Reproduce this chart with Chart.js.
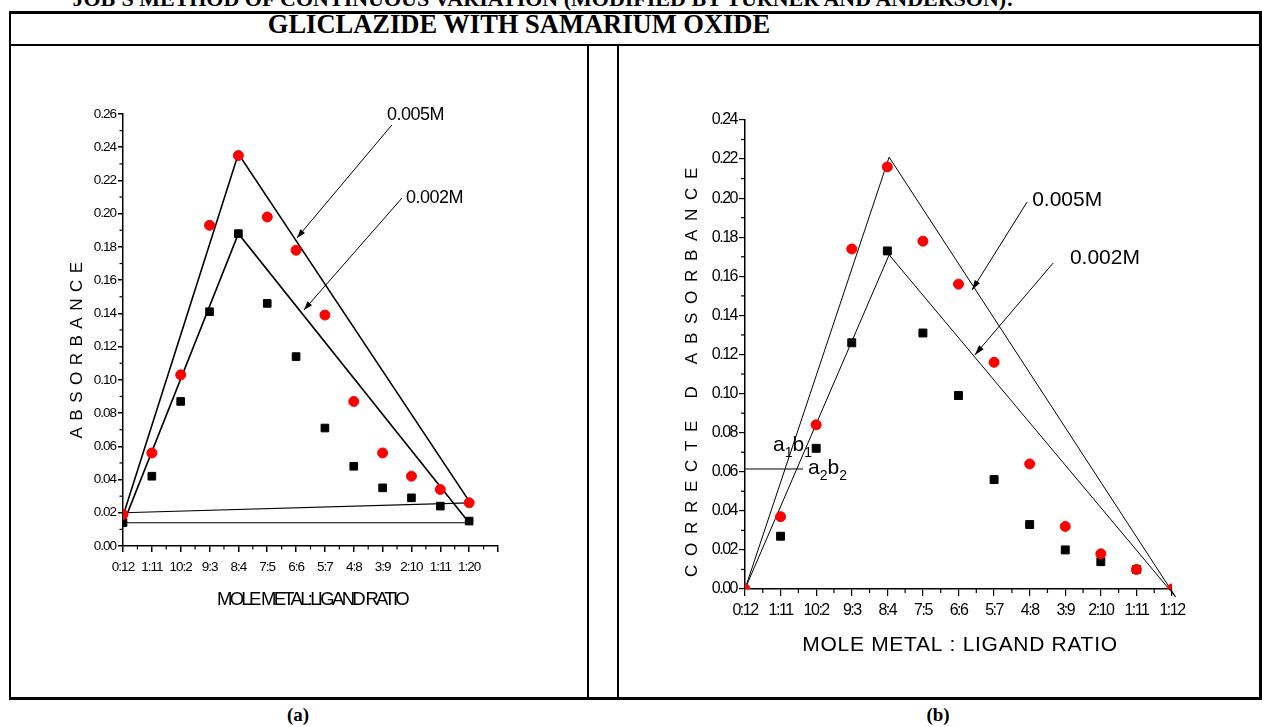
<!DOCTYPE html>
<html>
<head>
<meta charset="utf-8">
<script src="https://cdn.jsdelivr.net/npm/chart.js@4.4.1/dist/chart.umd.min.js"></script>
<style>
  body { margin: 0; background: #fff; }
  #page { position: relative; width: 1262px; height: 727px; overflow: hidden; }
  .ln { position: absolute; background: #000; }
  .cap { position: absolute; font-family: 'Liberation Serif', 'Times New Roman', serif; font-weight: bold;
         white-space: nowrap; line-height: 1; transform: translateX(-50%); }
  canvas { position: absolute; }
</style>
</head>
<body>
<div id="page">
  <canvas id="chartA" width="576" height="650" style="left:11px; top:47px;"></canvas>
  <canvas id="chartB" width="640" height="650" style="left:620px; top:47px;"></canvas>

  <div class="cap" style="left:543px; top:-12px; font-size:22px;">JOB'S METHOD OF CONTINUOUS VARIATION (MODIFIED BY TURNER AND ANDERSON):</div>
  <div class="cap" style="left:519px; top:11px; font-size:26.5px;">GLICLAZIDE WITH SAMARIUM OXIDE</div>

  <div class="ln" style="left:9px; top:11px; width:1253px; height:3px;"></div>
  <div class="ln" style="left:9px; top:44px; width:1253px; height:2px;"></div>
  <div class="ln" style="left:9px; top:11px; width:2px; height:689px;"></div>
  <div class="ln" style="left:1259px; top:11px; width:3px; height:689px;"></div>
  <div class="ln" style="left:587px; top:45px; width:2px; height:653px;"></div>
  <div class="ln" style="left:617px; top:45px; width:2px; height:653px;"></div>
  <div class="ln" style="left:9px; top:697px; width:1253px; height:3px;"></div>

  <div class="cap" style="left:298px; top:705px; font-size:19px;">(a)</div>
  <div class="cap" style="left:938px; top:705px; font-size:19px;">(b)</div>
</div>

<script>
// Configurações gerais
const FONT = "'Liberation Sans', Arial, sans-serif";
Chart.defaults.font.family = FONT;
Chart.defaults.color = '#000';

// Eixo X: razão molar metal:ligante
const ratioIdx = [0, 1, 2, 3, 4, 5, 6, 7, 8, 9, 10, 11, 12];
const ratioLabelsA = ['0:12', '1:11', '10:2', '9:3', '8:4', '7:5', '6:6', '5:7', '4:8', '3:9', '2:10', '1:11', '1:20'];
const ratioLabelsB = ['0:12', '1:11', '10:2', '9:3', '8:4', '7:5', '6:6', '5:7', '4:8', '3:9', '2:10', '1:11', '1:12'];

// (a) absorbância
const absA005 = [0.019, 0.056, 0.103, 0.193, 0.235, 0.198, 0.178, 0.139, 0.087, 0.056, 0.042, 0.034, 0.026];
const absA002 = [0.014, 0.042, 0.087, 0.141, 0.188, 0.146, 0.114, 0.071, 0.048, 0.035, 0.029, 0.024, 0.015];

// (b) absorbância corrigida
const corrB005 = [0.000, 0.037, 0.084, 0.174, 0.216, 0.178, 0.156, 0.116, 0.064, 0.032, 0.018, 0.010, 0.000];
const corrB002 = [null, 0.027, 0.072, 0.126, 0.173, 0.131, 0.099, 0.056, 0.033, 0.020, 0.014, 0.010, null];

// Retas (triângulos de Job)
const triA005X = [0, 4, 12],       triA005Y = [0.018, 0.236, 0.027];
const triA002X = [0, 4, 12],       triA002Y = [0.013, 0.188, 0.014];
const baseA005X = [0, 12],         baseA005Y = [0.020, 0.026];
const baseA002X = [0, 12],         baseA002Y = [0.014, 0.014];
const triB005X = [0, 4.05, 12.1],  triB005Y = [0, 0.221, -0.004];
const triB002X = [0, 4.05, 12.1],  triB002Y = [0, 0.171, -0.004];
const refBX = [0, 1.63],           refBY = [0.0614, 0.0614];

const pts = (xs, ys) => xs.map((x, i) => ({ x, y: ys[i] }));

// Plugin: espaçamento de texto, ticks menores, setas, rótulos e títulos dos eixos
const decor = {
    id: 'decor',
    beforeDraw(chart, args, o) {
        chart.ctx.letterSpacing = o.tickSpacing;
    },
    afterDraw(chart, args, o) {
        const { ctx, chartArea: area, scales: { x, y } } = chart;
        ctx.save();
        ctx.strokeStyle = '#000';
        ctx.fillStyle = '#000';

        // ticks menores
        ctx.lineWidth = o.minorWidth;
        [x, y].forEach(sc => {
            const t = sc.ticks;
            for (let i = 0; i < t.length - 1; i++) {
                const p = sc.getPixelForValue((t[i].value + t[i + 1].value) / 2);
                ctx.beginPath();
                if (sc === x) { ctx.moveTo(p, area.bottom); ctx.lineTo(p, area.bottom + o.minorLen); }
                else { ctx.moveTo(area.left, p); ctx.lineTo(area.left - o.minorLen, p); }
                ctx.stroke();
            }
        });

        // setas
        ctx.lineWidth = o.arrowWidth;
        o.arrows.forEach(a => {
            const x0 = x.getPixelForValue(a.from[0]), y0 = y.getPixelForValue(a.from[1]);
            const x1 = x.getPixelForValue(a.to[0]), y1 = y.getPixelForValue(a.to[1]);
            ctx.beginPath(); ctx.moveTo(x0, y0); ctx.lineTo(x1, y1); ctx.stroke();
            const ang = Math.atan2(y1 - y0, x1 - x0), L = o.headLen, W = o.headHalf;
            const bx = x1 - L * Math.cos(ang), by = y1 - L * Math.sin(ang);
            ctx.beginPath();
            ctx.moveTo(x1, y1);
            ctx.lineTo(bx + W * Math.sin(ang), by - W * Math.cos(ang));
            ctx.lineTo(bx - W * Math.sin(ang), by + W * Math.cos(ang));
            ctx.closePath();
            ctx.fill();
        });

        // rótulos (com subscrito)
        ctx.textBaseline = 'middle';
        ctx.textAlign = 'left';
        o.labels.forEach(l => {
            let px = x.getPixelForValue(l.at[0]);
            const py = y.getPixelForValue(l.at[1]);
            ctx.letterSpacing = l.spacing || '0px';
            l.parts.forEach(([txt, sub]) => {
                ctx.font = (sub ? l.subSize : l.size) + 'px ' + FONT;
                ctx.fillText(txt, px, py + (sub ? l.subDrop : 0));
                px += ctx.measureText(txt).width;
            });
        });

        // títulos dos eixos
        const tx = o.titles.x, ty = o.titles.y;
        ctx.textAlign = 'center';
        ctx.font = tx.size + 'px ' + FONT;
        ctx.letterSpacing = tx.spacing;
        ctx.fillText(tx.text, (area.left + area.right) / 2 + tx.dx, area.bottom + tx.dy);
        ctx.translate(area.left + ty.dx, (area.top + area.bottom) / 2 + ty.dy);
        ctx.rotate(-Math.PI / 2);
        ctx.font = ty.size + 'px ' + FONT;
        ctx.letterSpacing = ty.spacing;
        ctx.fillText(ty.text, 0, 0);

        ctx.restore();
        ctx.letterSpacing = '0px';
    }
};

function lineSet(xs, ys, width, color) {
    return { data: pts(xs, ys), showLine: true, borderColor: color || '#000', borderWidth: width,
             pointRadius: 0, fill: false, tension: 0, clip: false };
}

function buildChart(id, o) {
    return new Chart(document.getElementById(id), {
        type: 'scatter',
        data: { datasets: o.datasets },
        options: {
            responsive: false,
            animation: false,
            layout: { padding: o.padding },
            plugins: { legend: { display: false }, tooltip: { enabled: false }, decor: o.decor },
            scales: {
                x: {
                    type: 'linear', min: 0, max: o.xMax,
                    afterFit: s => { s.height = o.xHeight; },
                    border: { color: '#000', width: o.axisWidth },
                    grid: { drawOnChartArea: false, color: '#000', lineWidth: o.tickWidth, tickLength: o.xTickLen },
                    ticks: { stepSize: 1, autoSkip: false, maxRotation: 0, padding: o.xPad,
                             font: { size: o.tickSize }, callback: v => o.xLabels[v] ?? '' }
                },
                y: {
                    min: 0, max: o.yMax,
                    afterFit: s => { s.width = o.yWidth; },
                    border: { color: '#000', width: o.axisWidth },
                    grid: { drawOnChartArea: false, color: '#000', lineWidth: o.tickWidth, tickLength: o.yTickLen },
                    ticks: { stepSize: 0.02, padding: o.yPad, font: { size: o.tickSize },
                             callback: v => v.toFixed(2) }
                }
            }
        },
        plugins: [decor]
    });
}

// (a)
buildChart('chartA', {
    xLabels: ratioLabelsA, xMax: 13, yMax: 0.26,
    padding: { top: 67, right: 89, left: 0, bottom: 0 },
    yWidth: 112, xHeight: 151,
    axisWidth: 1.5, tickWidth: 1.5, tickSize: 13.5, xTickLen: 6, yTickLen: 5, xPad: 7, yPad: 2,
    datasets: [
        { data: pts(ratioIdx, absA005), pointStyle: 'circle', pointRadius: 5, backgroundColor: '#ff0000', borderColor: '#ff0000' },
        { data: pts(ratioIdx, absA002), pointStyle: 'rect', pointRadius: 5.4, backgroundColor: '#000', borderColor: '#000' },
        lineSet(triA005X, triA005Y, 1.6),
        lineSet(triA002X, triA002Y, 1.6),
        lineSet(baseA005X, baseA005Y, 1.2),
        lineSet(baseA002X, baseA002Y, 1.2)
    ],
    decor: {
        tickSpacing: '-1px', minorLen: 3.5, minorWidth: 1.2,
        arrowWidth: 1, headLen: 9, headHalf: 3,
        arrows: [
            { from: [9.32, 0.2534], to: [6.03, 0.1854] },
            { from: [9.67, 0.2094], to: [6.27, 0.1420] }
        ],
        labels: [
            { at: [9.15, 0.2594], size: 18, spacing: '-0.5px', parts: [['0.005M', 0]] },
            { at: [9.81, 0.2094], size: 18, spacing: '-0.5px', parts: [['0.002M', 0]] }
        ],
        titles: {
            x: { text: 'MOLE METAL:LIGAND RATIO', size: 18.5, spacing: '-2.7px', dx: 1.5, dy: 54 },
            y: { text: 'ABSORBANCE', size: 17, spacing: '6.5px', dx: -46, dy: 17 }
        }
    }
});

// (b)
buildChart('chartB', {
    xLabels: ratioLabelsB, xMax: 12, yMax: 0.24,
    padding: { top: 73, right: 88, left: 0, bottom: 0 },
    yWidth: 125, xHeight: 108,
    axisWidth: 1.5, tickWidth: 1.2, tickSize: 16, xTickLen: 7, yTickLen: 6, xPad: 5, yPad: 2,
    datasets: [
        { data: pts(ratioIdx, corrB005), pointStyle: 'circle', pointRadius: 5, backgroundColor: '#ff0000', borderColor: '#ff0000', clip: 0 },
        { data: pts(ratioIdx, corrB002), pointStyle: 'rect', pointRadius: 5.6, backgroundColor: '#000', borderColor: '#000', clip: 0 },
        lineSet(triB005X, triB005Y, 1),
        lineSet(triB002X, triB002Y, 1),
        lineSet(refBX, refBY, 1.5, '#555')
    ],
    decor: {
        tickSpacing: '-1.5px', minorLen: 4, minorWidth: 1.2,
        arrowWidth: 1, headLen: 10, headHalf: 3,
        arrows: [
            { from: [7.93, 0.1981], to: [6.38, 0.1530] },
            { from: [8.66, 0.1668], to: [6.46, 0.1198] }
        ],
        labels: [
            { at: [8.07, 0.1991], size: 21, parts: [['0.005M', 0]] },
            { at: [9.13, 0.1694], size: 21, parts: [['0.002M', 0]] },
            { at: [0.79, 0.0737], size: 21, subSize: 14, subDrop: 8, parts: [['a', 0], ['1', 1], ['b', 0], ['1', 1]] },
            { at: [1.77, 0.0619], size: 21, subSize: 14, subDrop: 8, parts: [['a', 0], ['2', 1], ['b', 0], ['2', 1]] }
        ],
        titles: {
            x: { text: 'MOLE METAL : LIGAND RATIO', size: 21, spacing: '0.7px', dx: 1.5, dy: 56 },
            y: { text: 'CORRECTE D ABSORBANCE', size: 17, spacing: '8.7px', dx: -53, dy: 13.5 }
        }
    }
});
</script>
</body>
</html>
